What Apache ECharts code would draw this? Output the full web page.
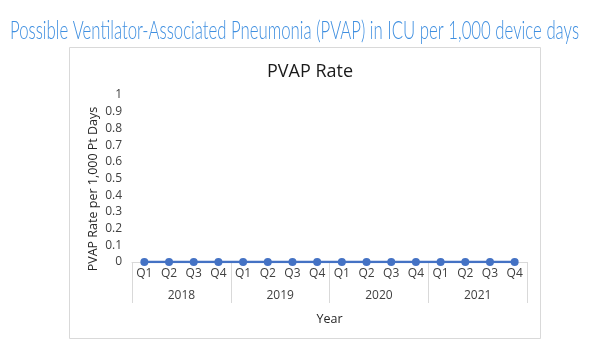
<!DOCTYPE html>
<html><head><meta charset="utf-8">
<script src="https://cdn.jsdelivr.net/npm/echarts@6/dist/echarts.min.js"></script>
<style>html,body{margin:0;padding:0;background:#fff}#c{width:600px;height:358px}</style>
</head><body><div id="c"></div>
<script>
const quarters = ['Q1','Q2','Q3','Q4','Q1','Q2','Q3','Q4','Q1','Q2','Q3','Q4','Q1','Q2','Q3','Q4'];
const years = ['2018','2019','2020','2021'];
const pvapRate = [0,0,0,0,0,0,0,0,0,0,0,0,0,0,0,0];
const headerText = 'Possible Ventilator-Associated Pneumonia (PVAP) in ICU per 1,000 device days';

const headerFont = '300 26px Lato';
const cv = document.createElement('canvas').getContext('2d');
cv.font = headerFont;
const hw = cv.measureText(headerText).width;
const sx = 569 / hw;

const chart = echarts.init(document.getElementById('c'), null, {renderer:'canvas'});
const lab = {color:'#404040', fontSize:12, fontFamily:'Open Sans'};
chart.setOption({
  animation:false,
  backgroundColor:'#fff',
  graphic:[
    {type:'rect', shape:{x:69.5,y:47.5,width:471,height:291}, style:{fill:'#fff',stroke:'#d9d9d9',lineWidth:1}, z:-10},
    {type:'text', x:10, y:31, scaleX:sx, style:{text:headerText, font:headerFont, fill:'#3f8fe0', textVerticalAlign:'middle'}},
    {type:'text', x:93, y:189, rotation:Math.PI/2, style:{text:'PVAP Rate per 1,000 Pt Days', fontSize:12.5, fontFamily:'Open Sans', fill:'#262626', align:'center', verticalAlign:'middle'}}
  ],
  title:{text:'PVAP Rate', left:305, top:58, textAlign:'center', textStyle:{fontSize:18, fontWeight:'normal', color:'#1a1a1a', fontFamily:'Open Sans'}},
  grid:{left:132, right:73, top:95, bottom:96},
  xAxis:[
    {type:'category', data:quarters, boundaryGap:true,
     axisLine:{lineStyle:{color:'#d9d9d9'}}, axisTick:{show:false},
     axisLabel:Object.assign({margin:6, interval:0}, lab)},
    {type:'category', data:years, position:'bottom', boundaryGap:true,
     axisLine:{show:false},
     axisTick:{show:true, length:41, interval:0, lineStyle:{color:'#d9d9d9'}},
     axisLabel:Object.assign({margin:28, interval:0}, lab),
     name:'Year', nameLocation:'middle', nameGap:51,
     nameTextStyle:{color:'#262626', fontSize:12.5, fontFamily:'Open Sans'}}
  ],
  yAxis:{type:'value', min:0, max:1, interval:0.1,
    axisLine:{show:false}, axisTick:{show:false}, splitLine:{show:false},
    axisLabel:Object.assign({margin:10}, lab)},
  series:[{type:'line', data:pvapRate, xAxisIndex:0,
    lineStyle:{color:'#4472C4', width:2.5}, itemStyle:{color:'#4472C4'},
    symbol:'circle', symbolSize:8}]
});
</script></body></html>
